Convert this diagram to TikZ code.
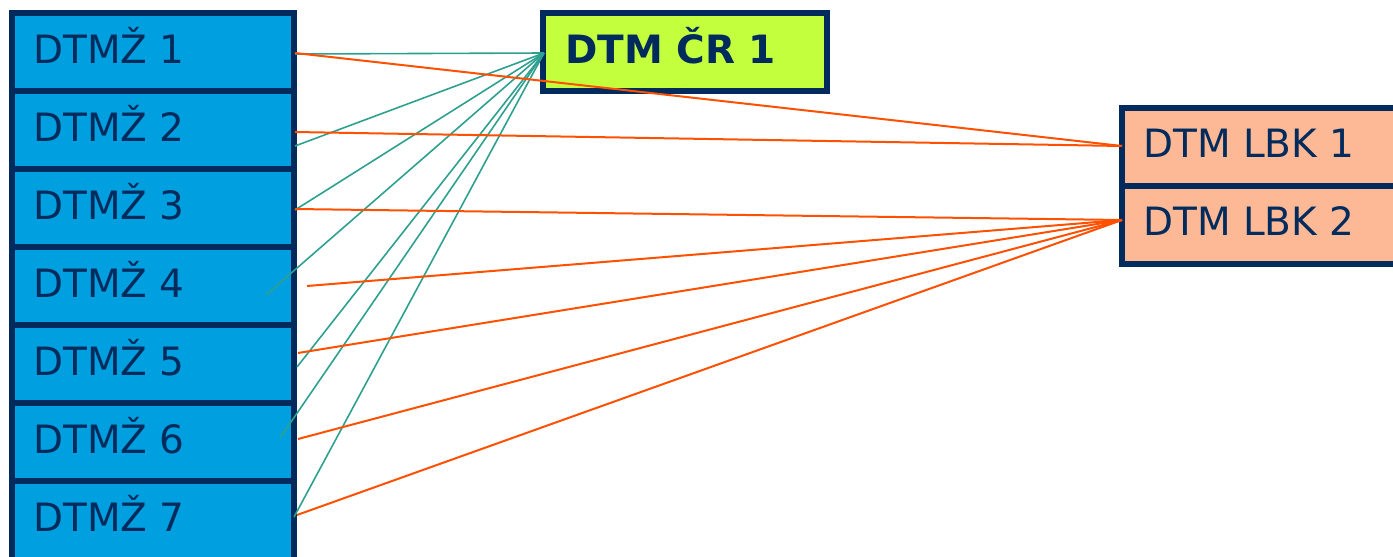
\documentclass[tikz,border=0pt]{standalone}
\usepackage{fontspec}
\setmainfont{DejaVu Sans}
\definecolor{navy}{HTML}{002B5C}
\definecolor{boxblue}{HTML}{00A0E0}
\definecolor{lime}{HTML}{C4FF3E}
\definecolor{peach}{HTML}{FDB996}
\definecolor{teal}{HTML}{2EA08F}
\definecolor{orng}{HTML}{FF5000}
\tikzset{
  zbox/.style={draw=navy, fill=boxblue, line width=6pt, minimum width=282pt, minimum height=78pt, inner sep=0pt, outer sep=0pt},
  crbox/.style={draw=navy, fill=lime, line width=6pt, minimum width=284pt, minimum height=78pt, inner sep=0pt, outer sep=0pt},
  lbox/.style={draw=navy, fill=peach, line width=6pt, minimum width=290pt, minimum height=78pt, inner sep=0pt, outer sep=0pt},
  lbl/.style={anchor=base west, inner sep=0pt, text=navy, font=\fontsize{39}{41}\selectfont},
  blbl/.style={lbl, font=\fontsize{39}{41}\selectfont\bfseries},
  tl/.style={draw=teal, line width=1.6pt},
  ol/.style={draw=orng, line width=2pt},
}
\begin{document}
\begin{tikzpicture}[x=1pt, y=-1pt]
\useasboundingbox (0,0) rectangle (1393,557);
\clip (0,0) rectangle (1393,557);
% left column
\foreach \i in {1,...,6} {
  \node[zbox] (z\i) at (153, {52+78*(\i-1)}) {};
}
\node[zbox, minimum height=84pt] (z7) at (153, 523) {};
\foreach \i in {1,...,7} {
  \node[lbl] (zt\i) at (33, {63+78*(\i-1)}) {DTMŽ \i};
}
% DTM CR 1
\node[crbox] (cr) at (685, 52) {};
\node[blbl] (crt) at (565, 63) {DTM ČR 1};
% LBK
\node[lbox] (l1) at (1267, 147) {};
\node[lbox] (l2) at (1267, 225) {};
\node[lbl] (lt1) at (1143, 157) {DTM LBK 1};
\node[lbl] (lt2) at (1143, 235) {DTM LBK 2};
% connector ends
\coordinate (crp) at (544, 53);
\coordinate (lp1) at (1122, 146);
\coordinate (lp2) at (1122, 220);
\coordinate (t1) at (295, 54);
\coordinate (t2) at (295, 146);
\coordinate (t3) at (295, 210);
\coordinate (t4) at (266, 295);
\coordinate (t5) at (297, 367);
\coordinate (t6) at (280, 438);
\coordinate (t7) at (294, 517);
\coordinate (o1) at (295, 53);
\coordinate (o2) at (295, 132);
\coordinate (o3) at (295, 209);
\coordinate (o4) at (307, 286);
\coordinate (o5) at (298, 353);
\coordinate (o6) at (298, 439);
\coordinate (o7) at (297, 515);
% teal lines
\foreach \i in {1,...,7} { \draw[tl] (t\i) -- (crp); }
% orange lines
\draw[ol] (o1) -- (lp1);
\draw[ol] (o2) -- (lp1);
\foreach \i in {3,...,7} { \draw[ol] (o\i) -- (lp2); }
\end{tikzpicture}
\end{document}
